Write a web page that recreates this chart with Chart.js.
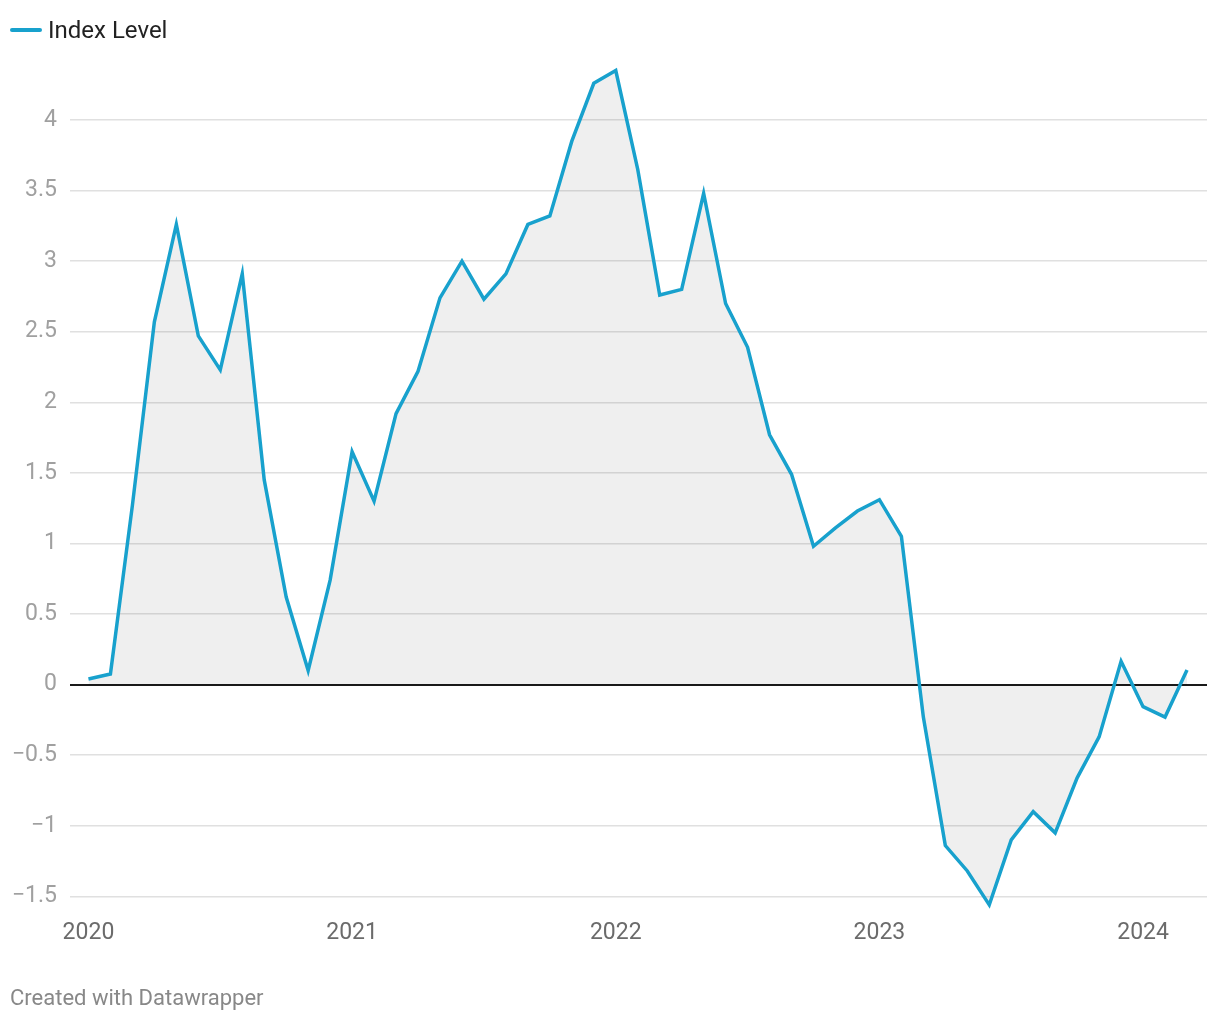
<!DOCTYPE html>
<html>
<head>
<meta charset="utf-8">
<script src="https://cdn.jsdelivr.net/npm/chart.js@4/dist/chart.umd.min.js"></script>
<style>
  body { margin: 0; background: #fff; font-family: Roboto, sans-serif; }
  #wrap { position: relative; width: 1220px; height: 1020px; }
  #chart { position: absolute; left: 0; top: 0; }
  #legend { position: absolute; left: 10px; top: 15px; height: 30px; display: flex; align-items: center; color: #222; font-size: 24px; }
  #legend .swatch { display: inline-block; width: 32px; height: 4px; border-radius: 2px; background: #18a1cd; margin-right: 6px; }
  #footer { position: absolute; left: 10px; top: 985px; color: #888; font-size: 22px; }
</style>
</head>
<body>
<div id="wrap">
  <canvas id="chart" width="1220" height="1020"></canvas>
  <div id="legend"><span class="swatch"></span>Index Level</div>
  <div id="footer">Created with Datawrapper</div>
</div>
<script>
// monthly observations, Jan 2020 - Mar 2024
const months = [
  '2020-01', '2020-02', '2020-03', '2020-04', '2020-05', '2020-06', '2020-07', '2020-08', '2020-09', '2020-10', '2020-11', '2020-12',
  '2021-01', '2021-02', '2021-03', '2021-04', '2021-05', '2021-06', '2021-07', '2021-08', '2021-09', '2021-10', '2021-11', '2021-12',
  '2022-01', '2022-02', '2022-03', '2022-04', '2022-05', '2022-06', '2022-07', '2022-08', '2022-09', '2022-10', '2022-11', '2022-12',
  '2023-01', '2023-02', '2023-03', '2023-04', '2023-05', '2023-06', '2023-07', '2023-08', '2023-09', '2023-10', '2023-11', '2023-12',
  '2024-01', '2024-02', '2024-03'
];
const indexLevel = [
  0.04, 0.075, 1.27, 2.57, 3.26, 2.47, 2.23, 2.91, 1.45, 0.62, 0.10, 0.74,
  1.65, 1.30, 1.92, 2.22, 2.74, 3.00, 2.73, 2.91, 3.26, 3.32, 3.85, 4.26,
  4.35, 3.65, 2.76, 2.80, 3.48, 2.70, 2.39, 1.77, 1.49, 0.98, 1.11, 1.23,
  1.31, 1.05, -0.23, -1.14, -1.32, -1.56, -1.10, -0.90, -1.05, -0.66, -0.37, 0.165,
  -0.156, -0.23, 0.104
];
const yearTicks = ['2020', '2021', '2022', '2023', '2024'];
const yTickValues = [-1.5, -1, -0.5, 0, 0.5, 1, 1.5, 2, 2.5, 3, 3.5, 4];

const ctx = document.getElementById('chart').getContext('2d');
new Chart(ctx, {
  type: 'line',
  data: {
    datasets: [{
      label: 'Index Level',
      data: months.map((m, i) => ({ x: i, y: indexLevel[i] })),
      borderColor: '#18a1cd',
      borderWidth: 3.5,
      backgroundColor: 'rgba(0, 0, 0, 0.063)',
      fill: 'origin',
      pointRadius: 0,
      tension: 0,
    }],
  },
  options: {
    responsive: false,
    animation: false,
    layout: { padding: { top: 63.5, right: 13, bottom: 69.5, left: 0 } },
    plugins: { legend: { display: false }, tooltip: { enabled: false } },
    scales: {
      x: {
        type: 'linear',
        min: -0.84,
        max: 50.91,
        grid: { display: false },
        border: { display: false },
        afterBuildTicks: (scale) => {
          scale.ticks = yearTicks.map((y) => ({ value: months.indexOf(y + '-01') }));
        },
        afterFit: (scale) => { scale.height = 40; },
        ticks: {
          padding: 1,
          color: '#6b6b6b',
          font: { family: 'Roboto', size: 23 },
          maxRotation: 0,
          autoSkip: false,
          callback: (v) => months[v].slice(0, 4),
        },
      },
      y: {
        min: -1.6,
        max: 4.4,
        afterBuildTicks: (scale) => {
          scale.ticks = yTickValues.map((v) => ({ value: v }));
        },
        afterFit: (scale) => { scale.width = 70; },
        grid: {
          drawTicks: false,
          color: (c) => (c.tick && c.tick.value === 0 ? '#1a1a1a' : '#e0e0e0'),
          lineWidth: (c) => (c.tick && c.tick.value === 0 ? 2 : 1.5),
        },
        border: { display: false },
        ticks: {
          padding: 13,
          color: '#a0a0a0',
          font: { family: 'Roboto', size: 23 },
          callback: (v) => String(v).replace('-', '\u2212'),
        },
      },
    },
  },
});
</script>
</body>
</html>
